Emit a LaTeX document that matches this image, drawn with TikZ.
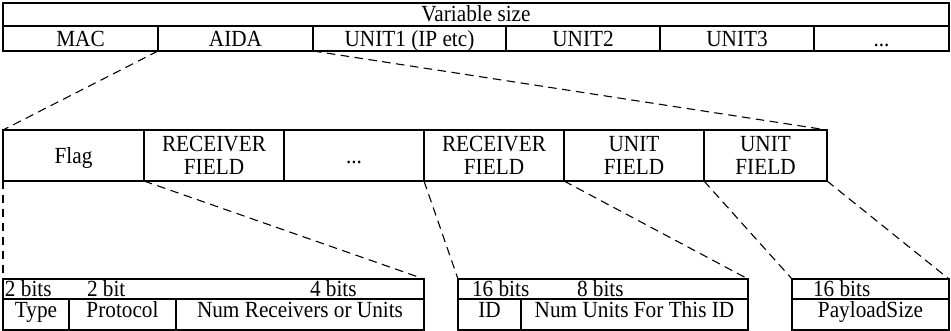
\documentclass[tikz,border=0pt]{standalone}
\usepackage{fontspec}
\setmainfont{Liberation Serif}[FakeStretch=0.92]
\begin{document}
\begin{tikzpicture}[x=1pt,y=-1pt,
  cell/.style={draw, line width=1.2pt, inner sep=0pt, outer sep=0pt, align=center,
    font=\fontsize{23.1}{23}\selectfont},
  txt/.style={inner sep=0pt, outer sep=0pt, anchor=base west, font=\fontsize{23.1}{23}\selectfont},
  bA/.style={text height=18.5pt, text depth=1.5pt},
  bB/.style={text height=17.5pt, text depth=2.5pt},
  bC/.style={text height=12.5pt, text depth=7.5pt},
  zoomline/.style={line width=1.1pt, dash pattern=on 8.5pt off 5.5pt}]
\useasboundingbox (0,0) rectangle (951,331);
% top table
\node[cell, bB, minimum width=946, minimum height=23] (varsize) at (476,14.5) {Variable size};
\node[cell, bA, minimum width=155, minimum height=25] (mac) at (80.5,38.5) {MAC};
\node[cell, bA, minimum width=155, minimum height=25] (aida) at (235.5,38.5) {AIDA};
\node[cell, bA, minimum width=193, minimum height=25] (unitone) at (409.5,38.5) {UNIT1 (IP etc)};
\node[cell, bA, minimum width=154, minimum height=25] (unittwo) at (583,38.5) {UNIT2};
\node[cell, bA, minimum width=154, minimum height=25] (unitthree) at (737,38.5) {UNIT3};
\node[cell, bA, minimum width=135, minimum height=25] (topdots) at (881.5,38.5) {...};
% middle table
\node[cell, bA, minimum width=141, minimum height=51] (flag) at (73.5,155.5) {Flag};
\node[cell, minimum width=140, minimum height=51] (rfone) at (214,155.5) {RECEIVER\\FIELD};
\node[cell, bA, minimum width=140, minimum height=51] (middots) at (354,155.5) {...};
\node[cell, minimum width=140, minimum height=51] (rftwo) at (494,155.5) {RECEIVER\\FIELD};
\node[cell, minimum width=140, minimum height=51] (ufone) at (634,155.5) {UNIT\\FIELD};
\node[cell, minimum width=123, minimum height=51] (uftwo) at (765.5,155.5) {UNIT\\FIELD};
% bottom table 1
\node[cell, minimum width=421, minimum height=20] (bitsone) at (213.5,289) {};
\node[txt] (bitsonea) at (5,296.5) {2 bits};
\node[txt] (bitsoneb) at (87,296.5) {2 bit};
\node[txt] (bitsonec) at (310,296.5) {4 bits};
\node[cell, bC, minimum width=66, minimum height=31] (type) at (36,314.5) {Type};
\node[cell, bC, minimum width=107, minimum height=31] (protocol) at (122.5,314.5) {Protocol};
\node[cell, bC, minimum width=248, minimum height=31] (numrec) at (300,314.5) {Num Receivers or Units};
% bottom table 2
\node[cell, minimum width=290, minimum height=20] (bitstwo) at (603,289) {};
\node[txt] (bitstwoa) at (472,296.5) {16 bits};
\node[txt] (bitstwob) at (577,296.5) {8 bits};
\node[cell, bC, minimum width=63, minimum height=31] (id) at (489.5,314.5) {ID};
\node[cell, bC, minimum width=227, minimum height=31] (numunits) at (634.5,314.5) {Num Units For This ID};
% bottom table 3
\node[cell, minimum width=157, minimum height=20] (bitsthree) at (870.5,289) {};
\node[txt] (bitsthreea) at (813,296.5) {16 bits};
\node[cell, bC, minimum width=157, minimum height=31] (payload) at (870.5,314.5) {PayloadSize};
% zoom connectors
\draw[zoomline] (aida.south west) -- (flag.north west);
\draw[zoomline] (aida.south east) -- (uftwo.north east);
\draw[zoomline] (flag.south west) -- (bitsone.north west);
\draw[zoomline] (rfone.south west) -- (bitsone.north east);
\draw[zoomline] (rftwo.south west) -- (bitstwo.north west);
\draw[zoomline] (ufone.south west) -- (bitstwo.north east);
\draw[zoomline] (uftwo.south west) -- (bitsthree.north west);
\draw[zoomline] (uftwo.south east) -- (bitsthree.north east);
\end{tikzpicture}
\end{document}
